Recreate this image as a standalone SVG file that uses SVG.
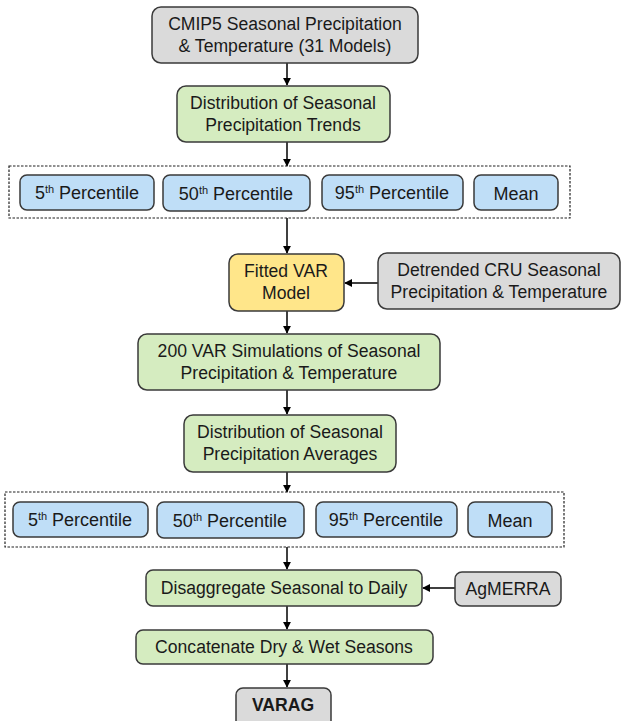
<svg xmlns="http://www.w3.org/2000/svg" width="635" height="721" viewBox="0 0 635 721">
<defs>
<marker id="ah" viewBox="0 0 10 10" refX="9" refY="5" markerWidth="5.5" markerHeight="5.5" orient="auto"><path d="M0,0 L10,5 L0,10 z" fill="#000"/></marker>
<style>
.n{stroke:#3a3a3a;stroke-width:1.5}
.gray{fill:#dadada}
.green{fill:#d5ecc0}
.blue{fill:#bfdef7}
.yellow{fill:#ffe68a}
.dash{fill:none;stroke:#222;stroke-width:1.2;stroke-dasharray:2.5,1.5}
text{font-family:"Liberation Sans",Arial,sans-serif;font-size:17.6px;fill:#1a1a1a;text-anchor:middle}
.sm{font-size:18px}
.sup{font-size:11px}
.b{font-weight:bold}
.c{stroke:#000;stroke-width:1.5;fill:none}
</style>
</defs>
<g id="connectors">
<line class="c" x1="287" y1="63" x2="287" y2="85" marker-end="url(#ah)"/>
<line class="c" x1="287" y1="142" x2="287" y2="166" marker-end="url(#ah)"/>
<line class="c" x1="287" y1="218" x2="287" y2="253" marker-end="url(#ah)"/>
<line class="c" x1="378" y1="283" x2="345" y2="283" marker-end="url(#ah)"/>
<line class="c" x1="287" y1="311" x2="287" y2="333" marker-end="url(#ah)"/>
<line class="c" x1="287" y1="390" x2="287" y2="414" marker-end="url(#ah)"/>
<line class="c" x1="287" y1="472" x2="287" y2="492" marker-end="url(#ah)"/>
<line class="c" x1="287" y1="547" x2="287" y2="569" marker-end="url(#ah)"/>
<line class="c" x1="455" y1="588" x2="423" y2="588" marker-end="url(#ah)"/>
<line class="c" x1="287" y1="606" x2="287" y2="629" marker-end="url(#ah)"/>
<line class="c" x1="287" y1="664" x2="287" y2="687" marker-end="url(#ah)"/>
</g>
<g id="cmip5"><rect class="n gray" x="152" y="7" width="266" height="56" rx="9"/><text x="285" y="30">CMIP5 Seasonal Precipitation</text><text x="285" y="52">&amp; Temperature (31  Models)</text></g>
<g id="dist-trends"><rect class="n green" x="177" y="86" width="213" height="56" rx="9"/><text x="283" y="109">Distribution of Seasonal</text><text x="283" y="131">Precipitation Trends</text></g>
<g id="group1"><rect class="dash" x="9" y="166" width="561" height="52"/></g>
<g id="p5a"><rect class="n blue" x="20" y="175" width="134" height="35" rx="7"/><text class="sm" x="87" y="199">5<tspan class="sup" dy="-6">th</tspan><tspan dy="6"> Percentile</tspan></text></g>
<g id="p50a"><rect class="n blue" x="163" y="175" width="147" height="36" rx="7"/><text class="sm" x="236" y="200">50<tspan class="sup" dy="-6">th</tspan><tspan dy="6"> Percentile</tspan></text></g>
<g id="p95a"><rect class="n blue" x="322" y="175" width="141" height="35" rx="7"/><text class="sm" x="392" y="199">95<tspan class="sup" dy="-6">th</tspan><tspan dy="6"> Percentile</tspan></text></g>
<g id="meana"><rect class="n blue" x="474" y="175" width="84" height="35" rx="7"/><text class="sm" x="516" y="200">Mean</text></g>
<g id="var"><rect class="n yellow" x="229" y="254" width="115" height="57" rx="9"/><text x="286" y="277">Fitted VAR</text><text x="286" y="299">Model</text></g>
<g id="cru"><rect class="n gray" x="378" y="253" width="242" height="56" rx="9"/><text x="499" y="276">Detrended CRU Seasonal</text><text x="499" y="298">Precipitation &amp; Temperature</text></g>
<g id="sims"><rect class="n green" x="138" y="334" width="302" height="56" rx="9"/><text x="289" y="357">200 VAR Simulations of Seasonal</text><text x="289" y="379">Precipitation &amp; Temperature</text></g>
<g id="dist-avg"><rect class="n green" x="184" y="415" width="212" height="57" rx="9"/><text x="290" y="438">Distribution of Seasonal</text><text x="290" y="460">Precipitation Averages</text></g>
<g id="group2"><rect class="dash" x="5" y="492" width="559" height="55"/></g>
<g id="p5b"><rect class="n blue" x="13" y="502" width="135" height="35" rx="7"/><text class="sm" x="80" y="526">5<tspan class="sup" dy="-6">th</tspan><tspan dy="6"> Percentile</tspan></text></g>
<g id="p50b"><rect class="n blue" x="157" y="502" width="147" height="36" rx="7"/><text class="sm" x="230" y="527">50<tspan class="sup" dy="-6">th</tspan><tspan dy="6"> Percentile</tspan></text></g>
<g id="p95b"><rect class="n blue" x="316" y="502" width="141" height="35" rx="7"/><text class="sm" x="386" y="526">95<tspan class="sup" dy="-6">th</tspan><tspan dy="6"> Percentile</tspan></text></g>
<g id="meanb"><rect class="n blue" x="468" y="502" width="84" height="35" rx="7"/><text class="sm" x="510" y="527">Mean</text></g>
<g id="disagg"><rect class="n green" x="146" y="570" width="276" height="36" rx="7"/><text x="284" y="594">Disaggregate Seasonal to Daily</text></g>
<g id="agmerra"><rect class="n gray" x="455" y="572" width="106" height="34" rx="7"/><text x="508" y="595">AgMERRA</text></g>
<g id="concat"><rect class="n green" x="136" y="630" width="297" height="34" rx="7"/><text x="284" y="653">Concatenate Dry &amp; Wet Seasons</text></g>
<g id="varag"><rect class="n gray" x="236" y="688" width="95" height="40" rx="7"/><text class="b" x="283" y="711">VARAG</text></g>
</svg>
